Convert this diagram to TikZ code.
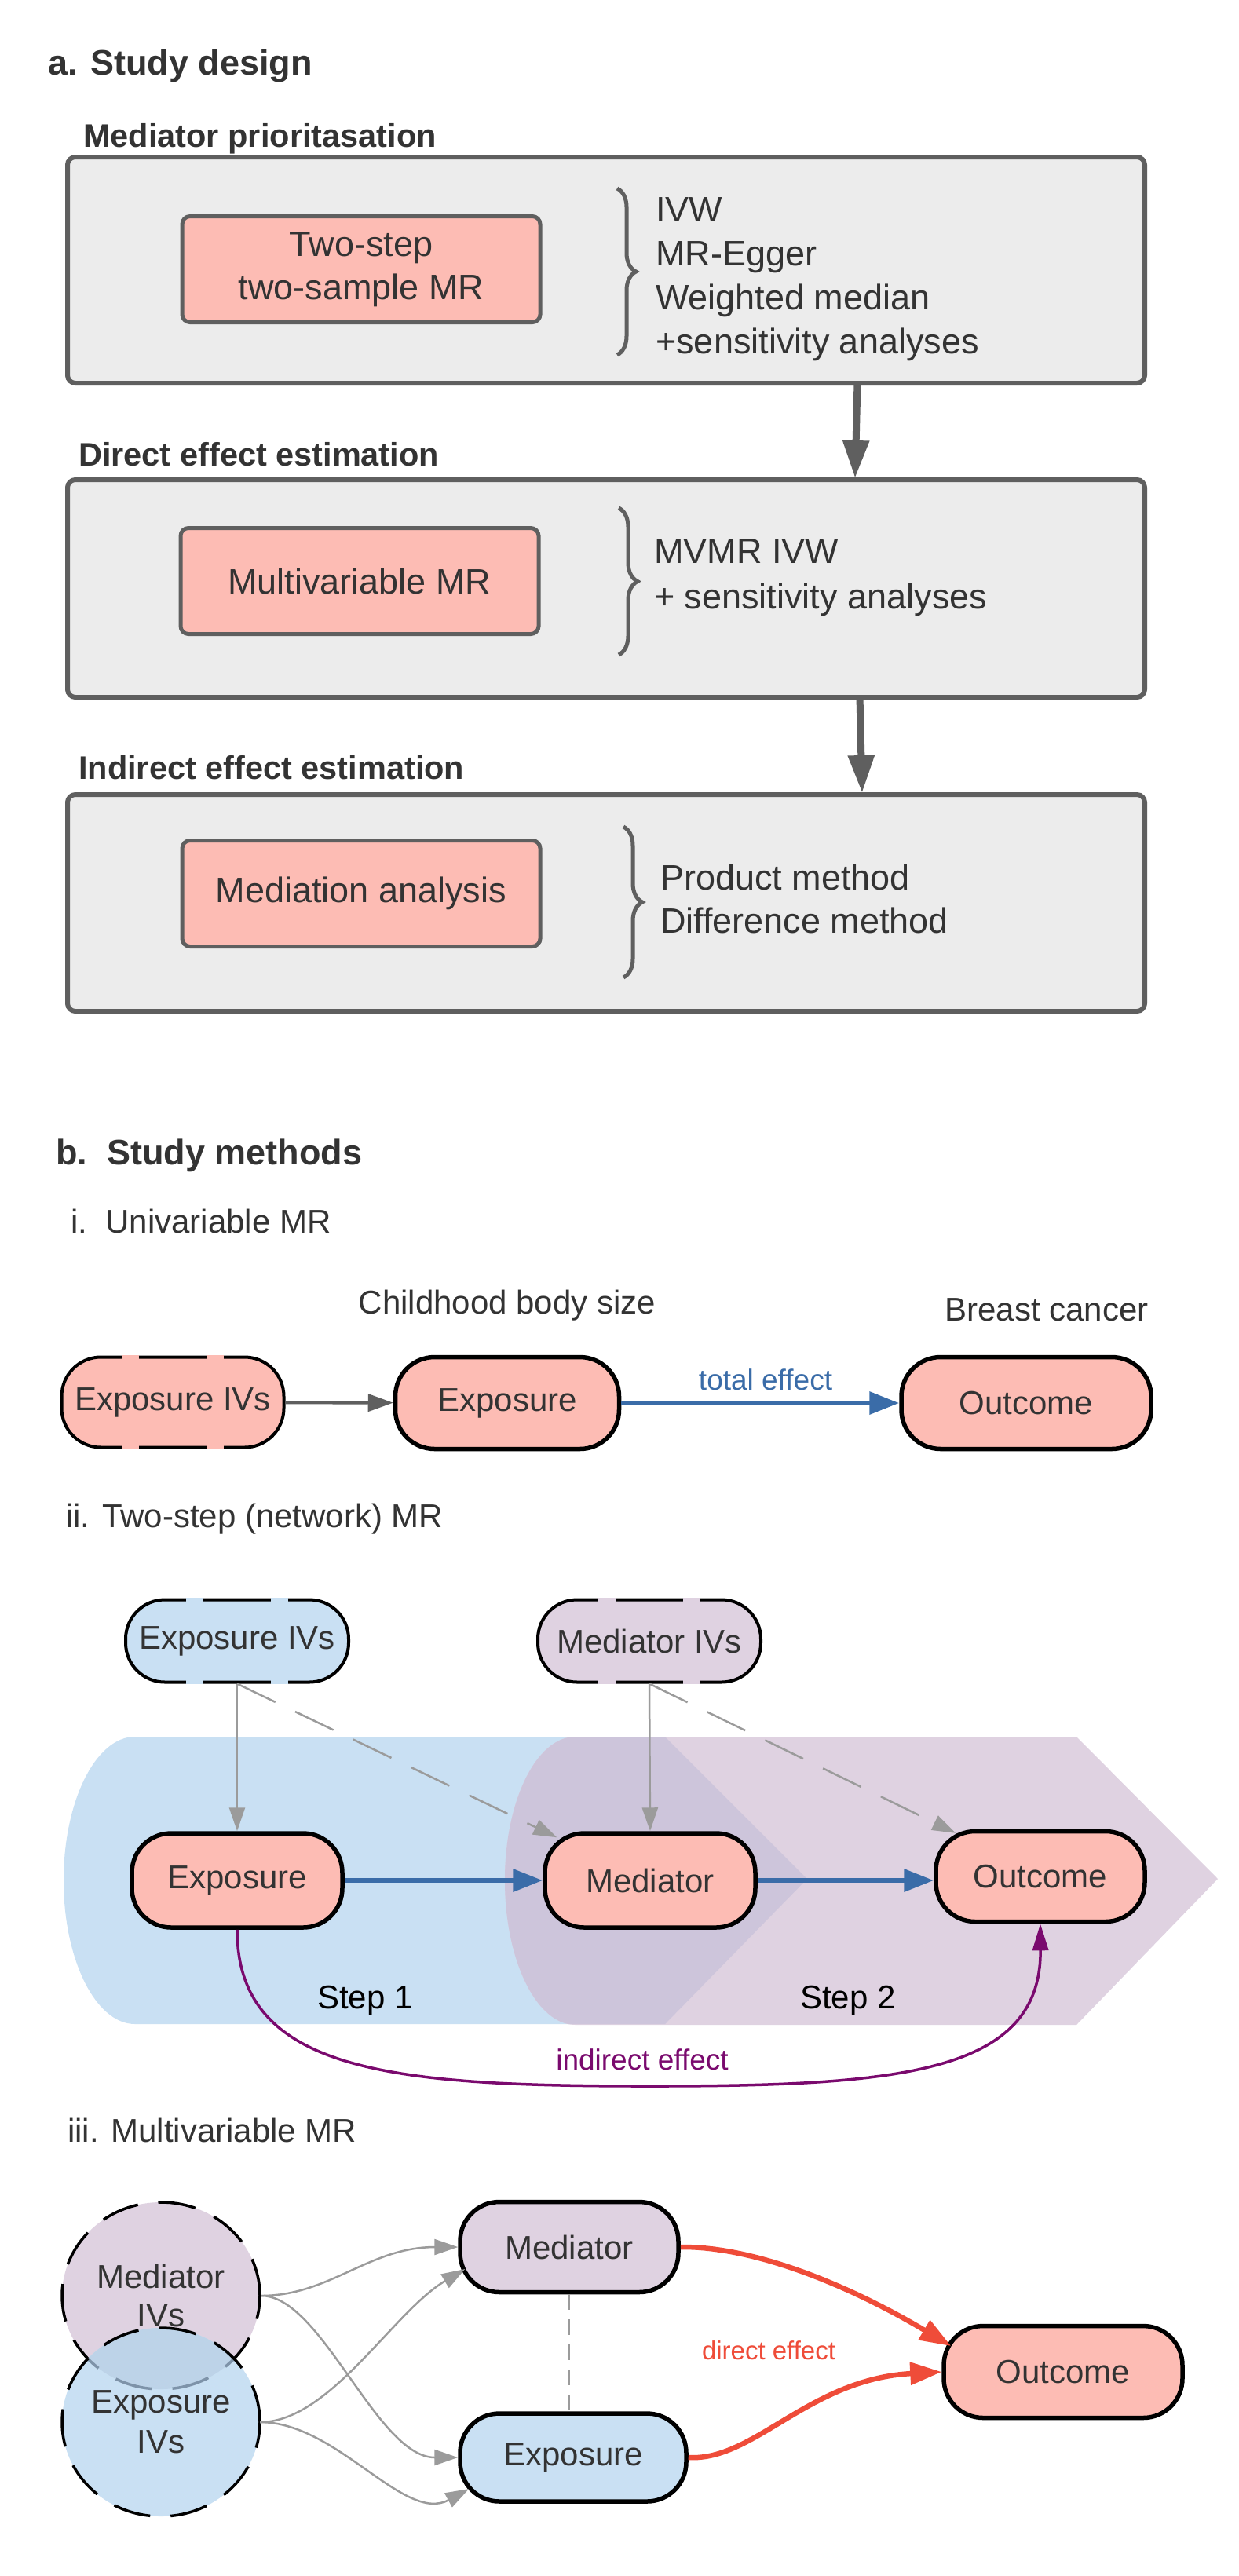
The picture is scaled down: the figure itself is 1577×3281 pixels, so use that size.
\documentclass[tikz,border=0pt]{standalone}
\usepackage{fontspec}
\setmainfont{Liberation Sans}
\usetikzlibrary{arrows.meta,shapes.geometric,decorations.pathreplacing,calc}
\definecolor{tc}{HTML}{333333}
\definecolor{bord}{HTML}{5F5F5F}
\definecolor{boxbg}{HTML}{ECECEC}
\definecolor{pinkf}{HTML}{FDBCB4}
\definecolor{bluef}{HTML}{C9E0F3}
\definecolor{purpf}{HTML}{DFD2E1}
\definecolor{ovl}{HTML}{CDC5DB}
\definecolor{ovlc}{HTML}{BDD3E8}
\definecolor{ovlline}{HTML}{7E93A9}
\definecolor{arrblue}{HTML}{3A6CA8}
\definecolor{indir}{HTML}{7A0A6E}
\definecolor{redd}{HTML}{EF4C39}
\definecolor{lgray}{HTML}{9B9B9B}
\newcommand\gapnode[2]{%
  \draw[#2,line width=4.8pt]
    ($(#1.north)+(-65,2)$) -- ($(#1.north)+(-43,2)$)
    ($(#1.north)+(43,2)$) -- ($(#1.north)+(65,2)$)
    ($(#1.south)+(-65,-2)$) -- ($(#1.south)+(-43,-2)$)
    ($(#1.south)+(43,-2)$) -- ($(#1.south)+(65,-2)$);}
\begin{document}
\begin{tikzpicture}[x=1pt,y=-1pt,
  head/.style={inner sep=0pt,text=tc,font=\fontsize{45pt}{54pt}\selectfont\bfseries},
  subh/.style={inner sep=0pt,text=tc,font=\fontsize{41.5pt}{50pt}\selectfont\bfseries},
  subt/.style={inner sep=0pt,text=tc,font=\fontsize{42pt}{50pt}\selectfont},
  graybox/.style={draw=bord,line width=6pt,fill=boxbg,rounded corners=10pt,minimum width=1372pt,inner sep=0pt},
  pinkbox/.style={draw=bord,line width=5pt,fill=pinkf,rounded corners=10pt,minimum width=456pt,minimum height=135pt,inner sep=0pt,align=center,text=tc,font=\fontsize{45pt}{55pt}\selectfont},
  lst/.style={inner sep=0pt,text=tc,align=left,font=\fontsize{45pt}{56pt}\selectfont},
  brc/.style={draw=bord,line width=5pt,decorate,decoration={brace,amplitude=24pt}},
  bigarr/.style={draw=bord,line width=9pt,-{Triangle[width=32pt,length=48pt]}},
  mr/.style={draw=black,line width=5.5pt,rounded corners=50pt,inner sep=0pt,text=tc,align=center,font=\fontsize{42pt}{50pt}\selectfont},
  mrd/.style={mr,line width=4pt},
  lab/.style={inner sep=0pt},
  darr/.style={draw=bord,line width=4pt,-{Triangle[width=22pt,length=32pt]}},
  barr/.style={draw=arrblue,line width=6.5pt,-{Triangle[width=28pt,length=38pt]}},
  garr/.style={draw=lgray,line width=2.5pt,-{Triangle[width=20pt,length=30pt]}},
  gdash/.style={garr,dash pattern=on 54pt off 28pt},
  parr/.style={draw=indir,line width=3.5pt,-{Triangle[width=20pt,length=34pt]}},
  rarr/.style={draw=redd,line width=6.5pt,-{Triangle[width=28pt,length=40pt]}},
  circd/.style={line width=3.5pt,dash pattern=on 48pt off 26pt}
]
\useasboundingbox (0,0) rectangle (1577,3281);
\fill[white] (0,0) rectangle (1577,3281);

% ---------------- a. Study design
\node[head,anchor=west] (ta) at (61,84) {a. Study design};

\node[subh,anchor=west] (t1) at (106,177) {Mediator prioritasation};
\node[graybox,minimum height=288pt] (box1) at (772,344) {};
\node[pinkbox] (p1) at (460,343) {Two-step\\two-sample MR};
\coordinate (b1t) at (786,240);
\coordinate (b1b) at (786,452);
\draw[brc] (b1t) -- (b1b);
\node[lst,anchor=west] (l1) at (835,356) {IVW\\MR-Egger\\Weighted median\\+sensitivity analyses};

\node[subh,anchor=west] (t2) at (100,579) {Direct effect estimation};
\node[graybox,minimum height=277pt] (box2) at (772,749.5) {};
\node[pinkbox] (p2) at (458,740) {Multivariable MR};
\coordinate (b2t) at (788,647);
\coordinate (b2b) at (788,834);
\draw[brc] (b2t) -- (b2b);
\node[lst,anchor=west,font=\fontsize{45pt}{58pt}\selectfont] (l2) at (833,736) {MVMR IVW\\+ sensitivity analyses};

\node[subh,anchor=west] (t3) at (100,978) {Indirect effect estimation};
\node[graybox,minimum height=276pt] (box3) at (772,1150) {};
\node[pinkbox] (p3) at (460,1138) {Mediation analysis};
\coordinate (b3t) at (794,1053);
\coordinate (b3b) at (794,1245);
\draw[brc] (b3t) -- (b3b);
\node[lst,anchor=west,font=\fontsize{45pt}{55pt}\selectfont] (l3) at (841,1145) {Product method\\Difference method};

\coordinate (a1s) at (1092,488);
\coordinate (a1e) at (1089,609);
\draw[bigarr] (a1s) -- (a1e);
\coordinate (a2s) at (1095,888);
\coordinate (a2e) at (1098,1010);
\draw[bigarr] (a2s) -- (a2e);

% ---------------- b. Study methods
\node[head,anchor=west] (tb) at (71,1472) {b.\ \ Study methods};
\node[subt,anchor=west] (ti) at (90,1555) {i.\ \ Univariable MR};

\node[subt] (cbs) at (646,1663) {Childhood body size};
\node[subt] (bc) at (1333,1668) {Breast cancer};

\node[mrd,fill=pinkf,minimum width=283pt,minimum height=115pt] (eiv1) at (220,1786) {Exposure IVs};
\gapnode{eiv1}{pinkf}
\node[mr,fill=pinkf,minimum width=285pt,minimum height=117pt] (exp1) at (646,1787) {Exposure};
\node[mr,fill=pinkf,minimum width=318pt,minimum height=117pt] (out1) at (1307,1787) {Outcome};
\draw[darr] (eiv1) -- (exp1);
\draw[barr] (exp1) -- (out1);
\node[lab,text=arrblue,font=\fontsize{37pt}{44pt}\selectfont] (te) at (975,1757) {total effect};

% ---------------- ii
\node[subt,anchor=west] (tii) at (84,1935) {ii. Two-step (network) MR};

\fill[bluef] (172,2212) -- (847,2212) -- (1028,2393) -- (847,2578) -- (172,2578) .. controls (122,2578) and (81,2496) .. (81,2395) .. controls (81,2294) and (122,2212) .. (172,2212) -- cycle;
\fill[purpf] (733,2212) -- (1371,2212) -- (1551,2393) -- (1371,2579) -- (733,2579) .. controls (683,2579) and (643,2496) .. (643,2395) .. controls (643,2294) and (683,2212) .. (733,2212) -- cycle;
\begin{scope}
\clip (172,2212) -- (847,2212) -- (1028,2393) -- (847,2578) -- (172,2578) .. controls (122,2578) and (81,2496) .. (81,2395) .. controls (81,2294) and (122,2212) .. (172,2212) -- cycle;
\fill[ovl] (733,2212) -- (1371,2212) -- (1551,2393) -- (1371,2579) -- (733,2579) .. controls (683,2579) and (643,2496) .. (643,2395) .. controls (643,2294) and (683,2212) .. (733,2212) -- cycle;
\end{scope}

\node[mrd,fill=bluef,minimum width=284pt,minimum height=105pt] (eiv2) at (302,2090) {Exposure IVs};
\gapnode{eiv2}{bluef}
\node[mrd,fill=purpf,minimum width=284pt,minimum height=105pt] (miv2) at (827,2090) {Mediator IVs};
\gapnode{miv2}{purpf}
\node[mr,fill=pinkf,minimum width=268pt,minimum height=120pt] (exp2) at (302,2395) {Exposure};
\node[mr,fill=pinkf,minimum width=268pt,minimum height=120pt] (med2) at (828,2395) {Mediator};
\node[mr,fill=pinkf,minimum width=266pt,minimum height=115pt] (out2) at (1325,2390) {Outcome};

\draw[garr] (eiv2.south) -- (exp2.north);
\draw[gdash] (eiv2.south) -- ($(med2.north west)+(18,8)$);
\draw[garr] (miv2.south) -- (med2.north);
\draw[gdash] (miv2.south) -- ($(out2.north west)+(28,5)$);
\draw[barr] (exp2.east) -- (med2.west);
\draw[barr] (med2.east) -- (out2.west |- med2.east);

\coordinate (indmid) at (828,2657);
\draw[parr] (exp2.south) .. controls (302,2640) and (500,2657) .. (indmid) .. controls (1150,2657) and (1326,2640) .. (out2.south);
\node[lab,text=indir,font=\fontsize{37pt}{44pt}\selectfont] (ie) at (818,2623) {indirect effect};
\node[lab,text=black,font=\fontsize{42pt}{50pt}\selectfont] (s1) at (465,2548) {Step 1};
\node[lab,text=black,font=\fontsize{42pt}{50pt}\selectfont] (s2) at (1080,2548) {Step 2};

% ---------------- iii
\node[subt,anchor=west] (tiii) at (86,2713) {iii. Multivariable MR};

\node[ellipse,fill=purpf,draw=black,circd,minimum width=252pt,minimum height=238pt,inner sep=0pt,text=tc,align=center,font=\fontsize{42pt}{49pt}\selectfont] (miv3) at (205,2924) {Mediator\\IVs};
\node[ellipse,fill=bluef,minimum width=252pt,minimum height=240pt,inner sep=0pt] (eiv3) at (205,3085) {};
\begin{scope}
\clip (205,3085) ellipse [x radius=126pt,y radius=120pt];
\fill[ovlc] (205,2924) ellipse [x radius=126pt,y radius=119pt];
\draw[ovlline,circd] (205,2924) ellipse [x radius=126pt,y radius=119pt];
\end{scope}
\draw[black,circd] (205,3085) ellipse [x radius=126pt,y radius=120pt];
\node[lab,text=tc,align=center,font=\fontsize{42pt}{51pt}\selectfont] (eiv3t) at (eiv3.center) {Exposure\\IVs};

\node[mr,fill=purpf,minimum width=278pt,minimum height=115pt] (med3) at (725,2862) {Mediator};
\node[mr,fill=bluef,minimum width=288pt,minimum height=112pt] (exp3) at (730,3130) {Exposure};
\node[mr,fill=pinkf,minimum width=304pt,minimum height=117pt] (out3) at (1354,3021) {Outcome};

\draw[lgray,line width=2pt,dash pattern=on 20pt off 12pt] (med3.south) -- (exp3.north -| med3.south);

\draw[garr] (miv3.east) .. controls (420,2924) and (470,2862) .. (med3.west);
\draw[garr] (miv3.east) .. controls (410,2924) and (480,3130) .. (exp3.west);
\draw[garr] (eiv3.east) .. controls (420,3085) and (500,2945) .. ($(med3.west)+(9,28)$);
\draw[garr] (eiv3.east) .. controls (430,3085) and (515,3215) .. ($(exp3.west)+(14,40)$);

\draw[rarr] (med3.east) .. controls (960,2861) and (1080,2910) .. ($(out3.west)+(12,-33)$);
\draw[rarr] (exp3.east) .. controls (960,3135) and (1030,3030) .. (out3.west);
\node[lab,text=redd,font=\fontsize{33pt}{40pt}\selectfont] (de) at (979,2994) {direct effect};
\end{tikzpicture}
\end{document}
